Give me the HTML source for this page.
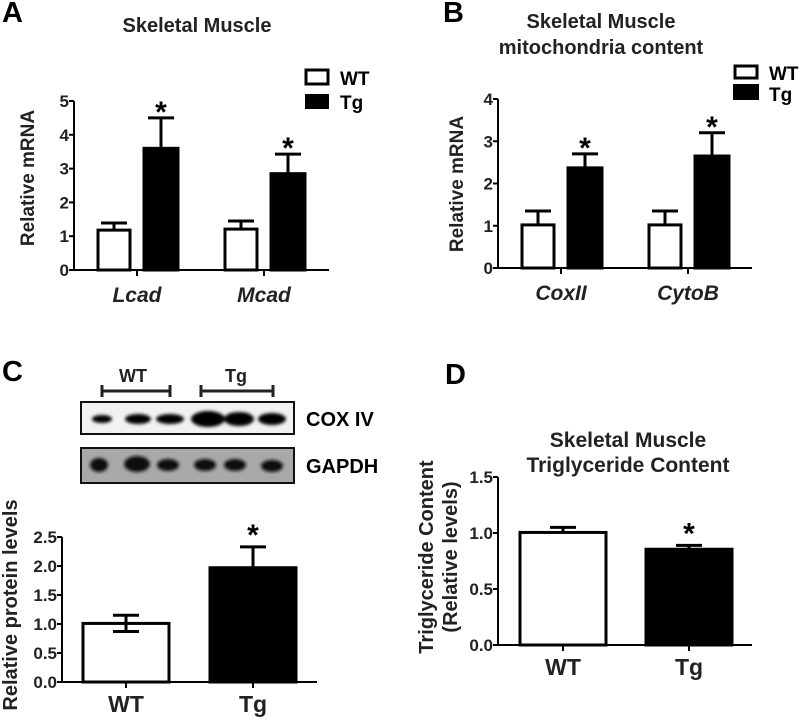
<!DOCTYPE html>
<html><head><meta charset="utf-8">
<style>
html,body{margin:0;padding:0;background:#fff;width:800px;height:721px;overflow:hidden}
svg{display:block;font-family:"Liberation Sans",Arial,sans-serif;font-weight:bold}
</style></head>
<body>
<svg id="fig" width="800" height="721" viewBox="0 0 800 721">
<defs>
<filter id="blur" x="-50%" y="-50%" width="200%" height="200%"><feGaussianBlur stdDeviation="1.6"/></filter>
</defs>
<text x="2" y="22" font-size="29">A</text>
<text x="197" y="32" font-size="20" text-anchor="middle" fill="#222">Skeletal Muscle</text>
<text x="443" y="22" font-size="29">B</text>
<text x="601" y="28" font-size="20" text-anchor="middle" fill="#222">Skeletal Muscle</text>
<text x="601" y="54" font-size="20" text-anchor="middle" fill="#222">mitochondria content</text>
<text x="2" y="381" font-size="29">C</text>
<text x="445" y="384" font-size="29">D</text>
<text x="628" y="447" font-size="21" text-anchor="middle" fill="#222">Skeletal Muscle</text>
<text x="628" y="472" font-size="21" text-anchor="middle" fill="#222">Triglyceride Content</text>

<text transform="translate(34,178) rotate(-90)" font-size="19" text-anchor="middle" fill="#222">Relative mRNA</text>
<text transform="translate(463,184) rotate(-90)" font-size="19" text-anchor="middle" fill="#222">Relative mRNA</text>
<text transform="translate(17,605) rotate(-90)" font-size="20" text-anchor="middle" fill="#222">Relative protein levels</text>
<text transform="translate(433,557) rotate(-90)" font-size="20" text-anchor="middle" fill="#222">Triglyceride Content</text>
<text transform="translate(457,557) rotate(-90)" font-size="20" text-anchor="middle" fill="#222">(Relative levels)</text>

<g>
<rect x="306" y="70" width="22" height="14" fill="#fff" stroke="#000" stroke-width="3"/>
<text x="340" y="85" font-size="19">WT</text>
<rect x="305" y="94" width="24" height="15" fill="#000"/>
<text x="340" y="109" font-size="19">Tg</text>
</g>
<g>
<rect x="735" y="66" width="22" height="12" fill="#fff" stroke="#000" stroke-width="3"/>
<text x="769" y="80" font-size="19">WT</text>
<rect x="733" y="84" width="26" height="16" fill="#000"/>
<text x="769" y="101" font-size="19">Tg</text>
</g>

<g>
<text x="133" y="382" font-size="18" text-anchor="middle" fill="#222">WT</text>
<text x="236" y="382" font-size="18" text-anchor="middle" fill="#222">Tg</text>
<path d="M102,385V397M102,391H170M170,385V397" stroke="#222" stroke-width="3" fill="none"/>
<path d="M201,385V397M201,391H273M273,385V397" stroke="#222" stroke-width="3" fill="none"/>
<rect x="81" y="402" width="213" height="32" fill="#f2f2f2" stroke="#111" stroke-width="2"/>
<g filter="url(#blur)" fill="#000">
<ellipse cx="102" cy="419" rx="10" ry="4"/>
<ellipse cx="138" cy="419" rx="13" ry="5"/>
<ellipse cx="170" cy="419" rx="14" ry="5"/>
<ellipse cx="208" cy="419" rx="17" ry="8"/>
<ellipse cx="239" cy="419" rx="15" ry="7"/>
<ellipse cx="272" cy="419" rx="14" ry="6"/>
</g>
<text x="306" y="426" font-size="20">COX IV</text>
<rect x="81" y="448" width="213" height="35" fill="#a9a9a9" stroke="#111" stroke-width="2"/>
<g filter="url(#blur)" fill="#111">
<ellipse cx="99" cy="465" rx="9" ry="7"/>
<ellipse cx="137" cy="464" rx="13" ry="8"/>
<ellipse cx="168" cy="465" rx="11" ry="6"/>
<ellipse cx="205" cy="465" rx="11" ry="6"/>
<ellipse cx="235" cy="465" rx="11" ry="6"/>
<ellipse cx="272" cy="466" rx="11" ry="6"/>
</g>
<text x="306" y="473" font-size="20">GAPDH</text>
</g>
<g id="charts"></g>
</svg>
<script>
// Panel A data
const aCategories = ["Lcad", "Mcad"];
const aWT = [1.18, 1.21];
const aWTerr = [0.21, 0.24];
const aTg = [3.6, 2.85];
const aTgErr = [0.9, 0.58];
const aTicks = ["0", "1", "2", "3", "4", "5"];
// Panel B data
const bCategories = ["CoxII", "CytoB"];
const bWT = [1.02, 1.02];
const bWTerr = [0.33, 0.33];
const bTg = [2.37, 2.65];
const bTgErr = [0.33, 0.55];
const bTicks = ["0", "1", "2", "3", "4"];
// Panel C data
const cCategories = ["WT", "Tg"];
const cValues = [1.01, 1.97];
const cErr = [0.14, 0.36];
const cTicks = ["0.0", "0.5", "1.0", "1.5", "2.0", "2.5"];
// Panel D data
const dCategories = ["WT", "Tg"];
const dValues = [1.005, 0.855];
const dErr = [0.045, 0.035];
const dTicks = ["0.0", "0.5", "1.0", "1.5"];

const NS = "http://www.w3.org/2000/svg";
const root = document.getElementById("charts");
function mk(tag, attrs, parent, txt) {
  const e = document.createElementNS(NS, tag);
  for (const k in attrs) e.setAttribute(k, attrs[k]);
  if (txt !== undefined) e.textContent = txt;
  (parent || root).appendChild(e);
  return e;
}
function axes(g, ax) {
  const ticks = ax.ticks;
  const y = v => ax.y0 - (v - ax.min) / (ax.max - ax.min) * (ax.y0 - ax.yTop);
  mk("line", {x1: ax.x, y1: ax.yTop, x2: ax.x, y2: ax.y0, stroke: "#000", "stroke-width": 2}, g);
  mk("line", {x1: ax.x - 5, y1: ax.y0, x2: ax.xEnd, y2: ax.y0, stroke: "#000", "stroke-width": 2}, g);
  ticks.forEach(t => {
    const yy = y(parseFloat(t));
    mk("line", {x1: ax.x - 5, y1: yy, x2: ax.x, y2: yy, stroke: "#000", "stroke-width": 2}, g);
    const tl = mk("text", {x: ax.x - 5, y: yy + 6, "font-size": 17, "text-anchor": "end", fill: "#222"}, g, t);
    
    
  });
  return y;
}
function bar(g, x0, x1, v, err, fill, y, name, both) {
  const top = y(v);
  const xc = (x0 + x1) / 2;
  const ey = y(v + err);
  const eg = mk("g", {}, g);
  
  
  mk("line", {x1: xc, y1: top, x2: xc, y2: ey, stroke: "#000", "stroke-width": 3}, eg);
  mk("line", {x1: xc - 13, y1: ey, x2: xc + 13, y2: ey, stroke: "#000", "stroke-width": 3}, eg);
  const r = mk("rect", {x: x0, y: top, width: x1 - x0, height: y(0) - top, fill: fill, stroke: "#000", "stroke-width": 3}, g);
  
  
  if (both) {
    const ly = y(v - err);
    mk("line", {x1: xc, y1: top, x2: xc, y2: ly, stroke: "#000", "stroke-width": 3}, eg);
    mk("line", {x1: xc - 13, y1: ly, x2: xc + 13, y2: ly, stroke: "#000", "stroke-width": 3}, eg);
    g.appendChild(eg);
  }
  return {xc, ey};
}
function star(g, x, yy, name) {
  const s = mk("text", {x: x, y: yy, "font-size": 30, "text-anchor": "middle"}, g, "*");
  
  
}
function xlabel(g, x, yy, t, italic, size) {
  const l = mk("text", {x: x, y: yy, "font-size": size, "text-anchor": "middle", fill: "#222", "font-style": italic ? "italic" : "normal"}, g, t);
  
  
}

function grouped(name, ax, cats, wt, wte, tg, tge, groupCenters) {
  const g = mk("g", {});
  
  
  const y = axes(g, ax);
  cats.forEach((c, i) => {
    const gc = groupCenters[i];
    bar(g, gc - 39, gc - 7, wt[i], wte[i], "#fff", y, name + '-bar-wt-' + c.toLowerCase(), false);
    const r = bar(g, gc + 7, gc + 41, tg[i], tge[i], "#000", y, name + '-bar-tg-' + c.toLowerCase(), false);
    star(g, r.xc, r.ey + 4, name + '-significance-' + c.toLowerCase());
    mk("line", {x1: gc, y1: ax.y0, x2: gc, y2: ax.y0 + 6, stroke: "#000", "stroke-width": 2}, g);
    xlabel(g, gc, ax.y0 + 32, c, true, 21);
  });
}
grouped("panel-a", {x: 74, xEnd: 329, y0: 270, yTop: 101, min: 0, max: 5, ticks: aTicks}, aCategories, aWT, aWTerr, aTg, aTgErr, [137, 264]);
grouped("panel-b", {x: 498, xEnd: 752, y0: 268, yTop: 99, min: 0, max: 4, ticks: bTicks}, bCategories, bWT, bWTerr, bTg, bTgErr, [561, 688]);

function single(name, ax, cats, vals, errs, centers, halfW, starIdx, both) {
  const g = mk("g", {});
  
  
  const y = axes(g, ax);
  cats.forEach((c, i) => {
    const xc = centers[i];
    const r = bar(g, xc - halfW, xc + halfW, vals[i], errs[i], i === 0 ? "#fff" : "#000", y, name + '-bar-' + c.toLowerCase(), both && i === 0);
    mk("line", {x1: xc, y1: ax.y0, x2: xc, y2: ax.y0 + 6, stroke: "#000", "stroke-width": 2}, g);
    xlabel(g, xc, ax.y0 + 30, c, false, 23);
    if (i === starIdx) star(g, r.xc, r.ey - 2, name + '-significance');
  });
}
single("panel-c", {x: 62, xEnd: 317, y0: 682, yTop: 537, min: 0, max: 2.5, ticks: cTicks}, cCategories, cValues, cErr, [126, 253], 43, 1, true);
single("panel-d", {x: 498, xEnd: 752, y0: 645, yTop: 477, min: 0, max: 1.5, ticks: dTicks}, dCategories, dValues, dErr, [563, 689], 43, 1, false);
</script>
</body></html>
